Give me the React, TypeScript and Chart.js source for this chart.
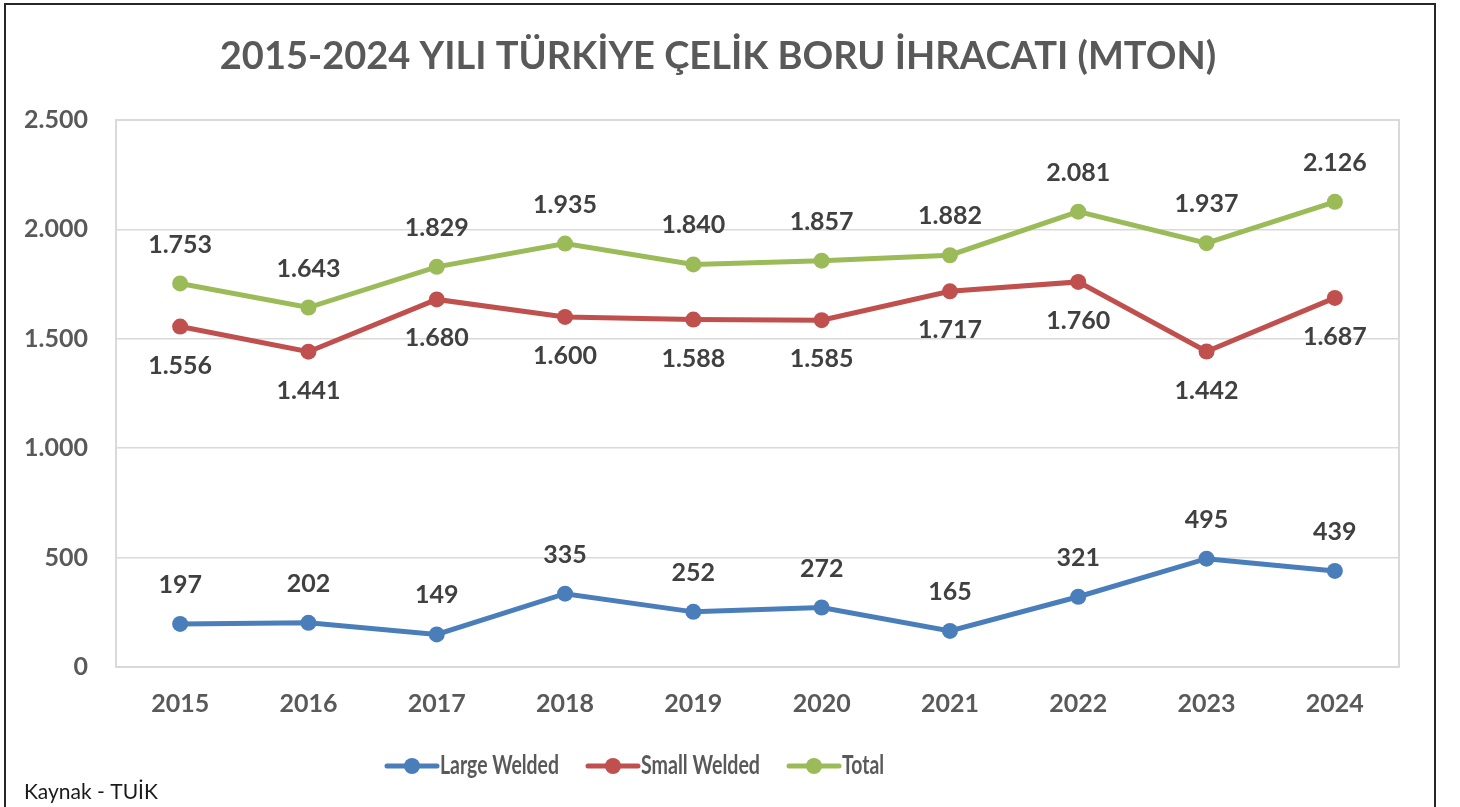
import React, { useEffect, useRef } from "react";
import { Chart, registerables } from "chart.js";

Chart.register(...registerables);

const years = ["2015", "2016", "2017", "2018", "2019", "2020", "2021", "2022", "2023", "2024"];
const largeWelded = [197, 202, 149, 335, 252, 272, 165, 321, 495, 439];
const smallWelded = [1556, 1441, 1680, 1600, 1588, 1585, 1717, 1760, 1442, 1687];
const total = [1753, 1643, 1829, 1935, 1840, 1857, 1882, 2081, 1937, 2126];
const seriesNames = ["Large Welded", "Small Welded", "Total"];
const seriesColors = ["#4A7EBB", "#C0504D", "#9BBB59"];
const labelSides = [-1, 1, -1];
const titleText = "2015-2024 YILI TÜRKİYE ÇELİK BORU İHRACATI (MTON)";
const sourceText = "Kaynak - TUİK";
const yMin = 0;
const yMax = 2500;
const yStep = 500;

const FONT = "Lato, 'Open Sans', sans-serif";

const fmt = (v: number) =>
  v >= 1000 ? `${Math.floor(v / 1000)}.${String(v % 1000).padStart(3, "0")}` : String(v);

const decorPlugin = {
  id: "decor",
  beforeDraw(chart: any) {
    const ctx = chart.ctx;
    ctx.save();
    ctx.fillStyle = "#ffffff";
    ctx.fillRect(0, 0, chart.width, chart.height);
    ctx.restore();
  },
  beforeDatasetsDraw(chart: any) {
    const { ctx, chartArea } = chart;
    ctx.save();
    ctx.strokeStyle = "#d9d9d9";
    ctx.lineWidth = 2;
    ctx.strokeRect(chartArea.left, chartArea.top, chartArea.right - chartArea.left, chartArea.bottom - chartArea.top);
    ctx.restore();
  },
  afterDatasetsDraw(chart: any) {
    const ctx = chart.ctx;
    ctx.save();
    ctx.font = `bold 25px ${FONT}`;
    ctx.fillStyle = "#404040";
    ctx.textAlign = "center";
    ctx.textBaseline = "middle";
    chart.data.datasets.forEach((ds: any, i: number) => {
      const meta = chart.getDatasetMeta(i);
      meta.data.forEach((pt: any, j: number) => {
        ctx.fillText(fmt(ds.data[j]), pt.x, pt.y + labelSides[i] * 39);
      });
    });
    ctx.restore();
  },
  afterDraw(chart: any) {
    const ctx = chart.ctx;
    ctx.save();
    // title
    ctx.font = `bold 38px ${FONT}`;
    ctx.fillStyle = "#595959";
    ctx.textAlign = "center";
    ctx.textBaseline = "middle";
    ctx.fillText(titleText, 718, 57);
    // legend
    const legendX = [387, 588, 789];
    const legendW = [119, 119, 42];
    ctx.font = `bold 26px ${FONT}`;
    ctx.textAlign = "left";
    for (let i = 0; i < 3; i++) {
      const x = legendX[i];
      const y = 766;
      ctx.strokeStyle = seriesColors[i];
      ctx.lineWidth = 5;
      ctx.lineCap = "round";
      ctx.beginPath();
      ctx.moveTo(x, y);
      ctx.lineTo(x + 50, y);
      ctx.stroke();
      ctx.fillStyle = seriesColors[i];
      ctx.beginPath();
      ctx.arc(x + 25, y, 8, 0, Math.PI * 2);
      ctx.fill();
      ctx.fillStyle = "#595959";
      ctx.fillText(seriesNames[i], x + 53, y, legendW[i]);
    }
    // source
    ctx.font = `21px ${FONT}`;
    ctx.fillStyle = "#1a1a1a";
    ctx.fillText(sourceText, 24, 792, 135);
    // outer frame
    ctx.strokeStyle = "#262626";
    ctx.lineWidth = 2;
    ctx.beginPath();
    ctx.moveTo(5, 820);
    ctx.lineTo(5, 4);
    ctx.lineTo(1435, 4);
    ctx.lineTo(1435, 820);
    ctx.stroke();
    ctx.restore();
  },
};

export default function App() {
  const ref = useRef<HTMLCanvasElement | null>(null);
  useEffect(() => {
    let chart: Chart | null = null;
    let cancelled = false;
    const make = () => {
      if (cancelled || !ref.current) return;
      chart = new Chart(ref.current, {
        type: "line",
        data: {
          labels: years,
          datasets: [largeWelded, smallWelded, total].map((d, i) => ({
            label: seriesNames[i],
            data: d,
            borderColor: seriesColors[i],
            backgroundColor: seriesColors[i],
            borderWidth: 5,
            pointRadius: 8,
            pointHoverRadius: 8,
            pointBorderWidth: 0,
            tension: 0,
          })),
        },
        options: {
          responsive: false,
          animation: false,
          devicePixelRatio: 1,
          layout: { padding: { top: 120, right: 61, left: 0, bottom: 0 } },
          plugins: { legend: { display: false }, title: { display: false }, tooltip: { enabled: false } },
          scales: {
            x: {
              type: "category",
              offset: true,
              grid: { display: false, drawTicks: false },
              border: { display: false },
              ticks: { color: "#595959", font: { family: FONT, size: 25, weight: "bold" }, padding: 22 },
              afterFit: (s: any) => { s.height = 140; },
            },
            y: {
              min: yMin,
              max: yMax,
              grid: { color: "#d9d9d9", lineWidth: 1.5, drawTicks: false },
              border: { display: false },
              ticks: {
                stepSize: yStep,
                color: "#595959",
                font: { family: FONT, size: 25, weight: "bold" },
                padding: 28,
                callback: (v: any) => fmt(Number(v)),
              },
              afterFit: (s: any) => { s.width = 116; },
            },
          },
        },
        plugins: [decorPlugin],
      } as any);
    };
    if ((document as any).fonts && (document as any).fonts.load) {
      Promise.all([
        (document as any).fonts.load(`bold 25px Lato`),
        (document as any).fonts.load(`21px Lato`),
      ]).then(make, make);
    } else make();
    return () => {
      cancelled = true;
      if (chart) chart.destroy();
    };
  }, []);
  return (
    <div style={{ position: "fixed", left: 0, top: 0, width: 1460, height: 807, background: "#fff" }}>
      <canvas ref={ref} width={1460} height={807} style={{ display: "block" }} />
    </div>
  );
}
